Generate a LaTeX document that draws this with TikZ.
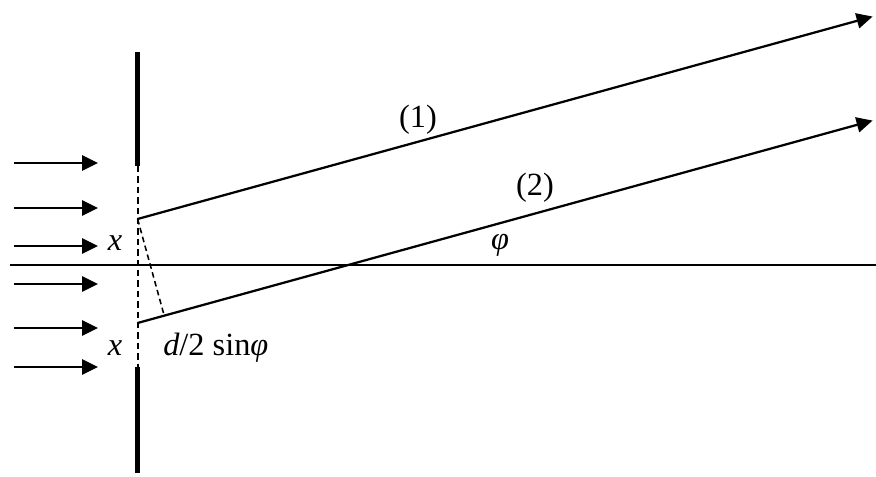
\documentclass[tikz,border=0pt]{standalone}
\usepackage{fontspec}
\setmainfont{Liberation Serif}
\usetikzlibrary{arrows.meta,calc}

\begin{document}
\begin{tikzpicture}[>={Triangle[length=4mm,width=3.8mm]},
  every node/.style={font=\fontsize{23}{27}\selectfont, inner sep=0pt}]

\def\xW{3.44}
\def\yAx{5.3}
\def\ang{15.4}
\def\Lray{19.06}

\useasboundingbox (0,0) rectangle (21.9,11.925);

\coordinate (S1) at (\xW,6.45);
\coordinate (S2) at (\xW,3.85);
\coordinate (E1) at ($(S1)+(\ang:\Lray)$);
\coordinate (E2) at ($(S2)+(\ang:\Lray)$);
\coordinate (F) at ($(S2)!(S1)!(E2)$);

% screen with slit
\draw[line width=3.6pt] (\xW,10.625) -- (\xW,7.775);
\draw[line width=3.6pt] (\xW,2.75) -- (\xW,0.1);
\draw[line width=1.5pt, dash pattern=on 1.6mm off 1mm] (\xW,7.775) -- (\xW,2.75);

% axis
\draw[line width=1.1pt] (0.25,\yAx) -- (21.9,\yAx);

% incoming wave
\foreach \y in {7.85,6.725,5.775,4.825,3.725,2.75}
  \draw[->, line width=1.5pt] (0.35,\y) -- (2.45,\y);

% rays
\draw[->, line width=1.6pt] (S1) -- (E1);
\draw[->, line width=1.6pt] (S2) -- (E2);
\draw[line width=1.1pt, dash pattern=on 1.4mm off 0.9mm] (S1) -- (F);

\node (x1) at (2.875,5.85) {\itshape x};
\node (x2) at (2.875,3.225) {\itshape x};
\node[anchor=west] (dl) at (4.075,3.225) {\itshape d\upshape/2 sin\itshape φ};
\node (r1) at (10.45,8.925) {(1)};
\node (r2) at (13.375,7.225) {(2)};
\node (phi) at (12.5,5.8) {\itshape φ};

\end{tikzpicture}
\end{document}
